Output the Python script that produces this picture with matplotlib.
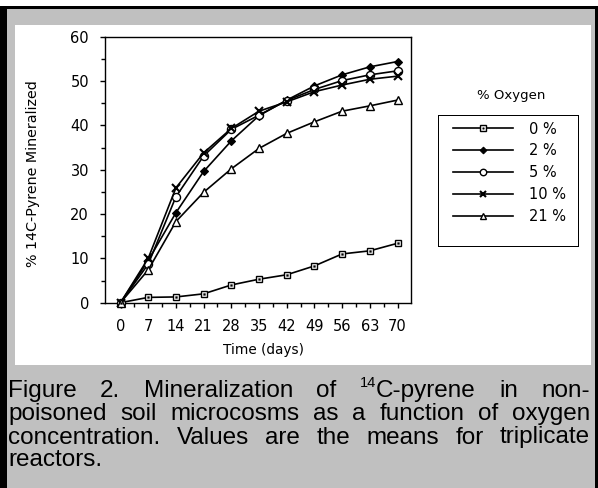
import matplotlib
matplotlib.use("Agg")
import matplotlib.pyplot as plt
from matplotlib.patches import Rectangle
from matplotlib.ticker import FixedLocator
from matplotlib.legend_handler import HandlerTuple

# ---------------- data ----------------
days = [0, 7, 14, 21, 28, 35, 42, 49, 56, 63, 70]
oxy_0 = [0, 1.2, 1.3, 2.0, 4.0, 5.3, 6.3, 8.3, 11.0, 11.7, 13.4]
oxy_2 = [0, 9.5, 20.3, 29.6, 36.5, 42.2, 45.7, 48.9, 51.4, 53.2, 54.4]
oxy_5 = [0, 8.7, 23.9, 33.1, 39.1, 42.3, 45.6, 48.1, 50.1, 51.4, 52.3]
oxy_10 = [0, 10.0, 25.9, 33.8, 39.3, 43.2, 45.3, 47.6, 49.1, 50.4, 51.1]
oxy_21 = [0, 7.4, 18.3, 24.9, 30.2, 34.8, 38.2, 40.8, 43.2, 44.4, 45.7]
series_labels = ["0 %", "2 %", "5 %", "10 %", "21 %"]
x_ticks = [0, 7, 14, 21, 28, 35, 42, 49, 56, 63, 70]
y_ticks = [0, 10, 20, 30, 40, 50, 60]
x_label = "Time (days)"
y_label = "% 14C-Pyrene Mineralized"
legend_title = "% Oxygen"
caption_lines = [
    "Figure 2. Mineralization of {14}C-pyrene in non-",
    "poisoned soil microcosms as a function of oxygen",
    "concentration. Values are the means for triplicate",
    "reactors.",
]

W, H = 598, 488
fig = plt.figure(figsize=(W / 100, H / 100), dpi=100)
fig.patch.set_facecolor("#C0C0C0")


def fx(px):
    return px / W


def fy(py):
    return 1 - py / H


def frect(x0, y0, x1, y1, color):
    fig.add_artist(Rectangle((fx(x0), fy(y1)), fx(x1) - fx(x0), fy(y0) - fy(y1),
                             transform=fig.transFigure, facecolor=color,
                             edgecolor="none", zorder=-10))


# frame
frect(0, 0, W, 6, "white")
frect(0, 6, W, 9.3, "black")
frect(0, 6, 7, H, "black")
frect(595, 6, 597.5, H, "black")
frect(597.5, 0, W, H, "white")
frect(15, 25, 590.7, 365, "white")

# axes
L, R, T, B = 105, 411, 36.7, 302.7
ax = fig.add_axes([fx(L), fy(B), fx(R) - fx(L), fy(T) - fy(B)])
ax.set_facecolor("white")
ax.set_xlim(-3.92, 73.4)
ax.set_ylim(0, 60)

lw = 1.2
common = dict(color="black", lw=lw, clip_on=False)
l0, = ax.plot(days, oxy_0, marker="s", ms=4.8, mfc="white", mec="black", mew=1.0, zorder=3, **common)
d0, = ax.plot(days, oxy_0, ls="none", marker="s", ms=1.3, mfc="black", mec="black", mew=0.3, zorder=4, clip_on=False)
l2, = ax.plot(days, oxy_2, marker="D", ms=4.2, mfc="black", mec="black", mew=0.8, zorder=3, **common)
l5, = ax.plot(days, oxy_5, marker="o", ms=5.8, mfc="white", mec="black", mew=1.0, zorder=3, **common)
l10, = ax.plot(days, oxy_10, marker="x", ms=5.8, mec="black", mew=1.5, zorder=3, **common)
l21, = ax.plot(days, oxy_21, marker="^", ms=5.8, mfc="white", mec="black", mew=1.0, zorder=3, **common)

for s in ax.spines.values():
    s.set_linewidth(1.0)
ax.xaxis.set_major_locator(FixedLocator(x_ticks))
ax.xaxis.set_minor_locator(FixedLocator([t + 3.5 for t in x_ticks[:-1]]))
ax.yaxis.set_major_locator(FixedLocator(y_ticks))
ax.yaxis.set_minor_locator(FixedLocator([t + 5 for t in y_ticks[:-1]]))
ax.tick_params(which="both", direction="out", width=1.0, labelsize=10.5,
               top=False, right=False)
ax.tick_params(which="major", length=3.5)
ax.tick_params(which="minor", length=3)
ax.tick_params(axis="x", pad=8)
ax.tick_params(axis="y", pad=8)

ax.set_xlabel(x_label, fontsize=9.8)
ax.xaxis.set_label_coords((263.7 - L) / (R - L), (B - 350) / (B - T))
ax.xaxis.label.set_va("center")
ax.set_ylabel(y_label, fontsize=10.3)
ax.yaxis.set_label_coords((33 - L) / (R - L), (B - 174) / (B - T))
ax.yaxis.label.set_va("center")

# legend
fig.text(fx(510.7), fy(95), legend_title, ha="center", va="center", fontsize=9.5)
frect(438.3, 115, 579.3, 246.7, "black")
frect(439.3, 116, 578.3, 245.7, "white")
leg_fs = 10.5
leg = fig.legend([(l0, d0), l2, l5, l10, l21], series_labels,
                 handler_map={tuple: HandlerTuple(ndivide=1)},
                 loc="upper left", bbox_to_anchor=(fx(453), fy(121.5)),
                 bbox_transform=fig.transFigure, frameon=False, fontsize=leg_fs,
                 handlelength=60 / (leg_fs * 100 / 72), handletextpad=1.1,
                 labelspacing=0.47, borderpad=0, borderaxespad=0,
                 markerscale=0.8)

# caption (justified)
fig.canvas.draw()
renderer = fig.canvas.get_renderer()
cap_fs = 17.5
cap_font = "Liberation Sans"
left_px, right_px = 8, 590
baselines = [397, 420, 443.5, 466.5]


def make_pieces(word):
    if word.startswith("{"):
        sup, rest = word[1:].split("}")
        return [(sup, True), (rest, False)]
    return [(word, False)]


for li, line in enumerate(caption_lines):
    words = line.split(" ")
    word_objs = []
    for w in words:
        objs = []
        for txt, sup in make_pieces(w):
            t = fig.text(0, 0, txt, fontsize=cap_fs * (0.6 if sup else 1.0),
                         family=cap_font, va="baseline", ha="left")
            wpx = t.get_window_extent(renderer).width
            objs.append((t, sup, wpx))
        word_objs.append(objs)
    widths = [sum(o[2] for o in objs) for objs in word_objs]
    if li < len(caption_lines) - 1 and len(words) > 1:
        gap = (right_px - left_px - sum(widths)) / (len(words) - 1)
    else:
        gap = cap_fs * 100 / 72 * 0.278
    x = left_px
    for objs, wpx in zip(word_objs, widths):
        xx = x
        for t, sup, pw in objs:
            yb = baselines[li] - (10 if sup else 0)
            t.set_position((fx(xx), fy(yb)))
            xx += pw
        x += wpx + gap

fig.savefig("out.png", dpi=100, facecolor=fig.get_facecolor())
